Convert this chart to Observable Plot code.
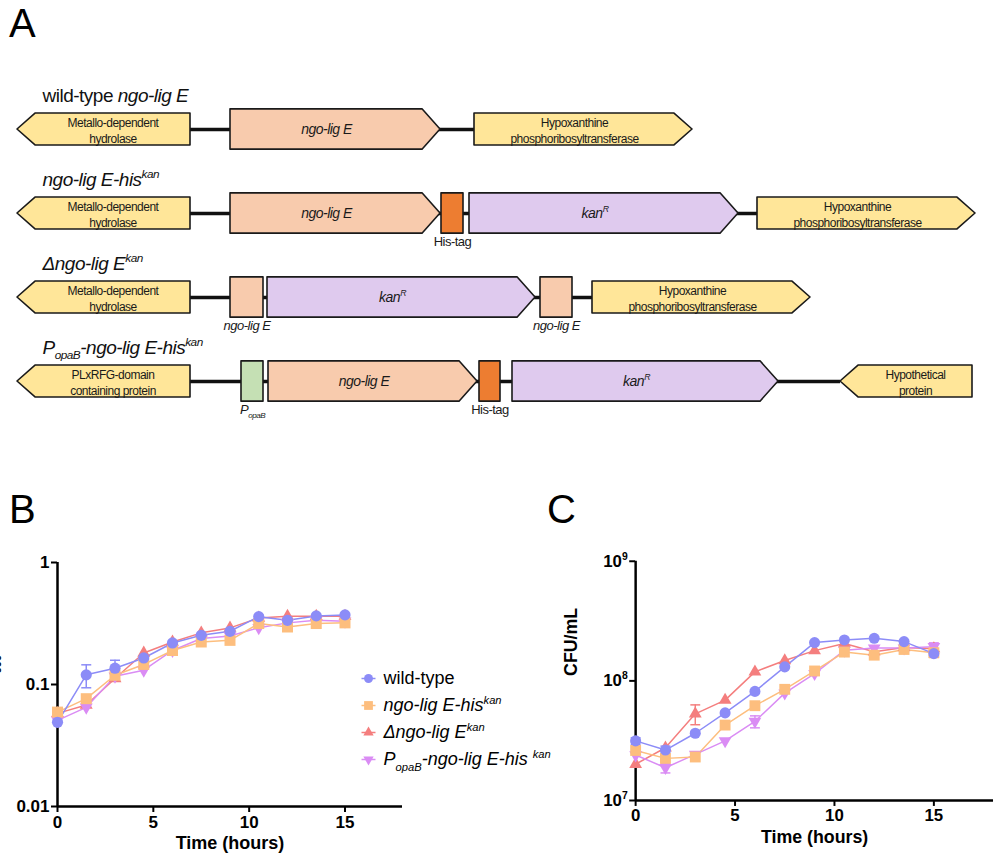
<!DOCTYPE html>
<html>
<head>
<meta charset="utf-8">
<script src="https://cdn.jsdelivr.net/npm/d3@7"></script>
<script src="https://cdn.jsdelivr.net/npm/@observablehq/plot@0.6"></script>
<style>
  html, body { margin:0; padding:0; background:#fff; }
  body { width:995px; height:861px; position:relative; overflow:hidden; font-family:'Liberation Sans', Arial, sans-serif; }
  .panel { position:absolute; }
  .letter { position:absolute; font-size:40px; line-height:40px; color:#000; }
</style>
</head>
<body>
<div class="letter" style="left:9px;top:3px">A</div>
<div class="letter" style="left:9px;top:489px">B</div>
<div class="letter" style="left:547px;top:489px">C</div>
<div id="A" class="panel" style="left:0;top:0"></div>
<div id="B" class="panel" style="left:0;top:540px"></div>
<div id="C" class="panel" style="left:560px;top:540px"></div>
<div id="L" class="panel" style="left:350px;top:660px"></div>
<script>
// ---------------- DATA ----------------
// Panel A: gene maps (map units along the locus; row = construct index)
const rowTitles = [
  "wild-type *ngo-lig E*",
  "*ngo-lig E-his*^{*kan*}",
  "*Δngo-lig E*^{*kan*}",
  "*P*_{*opaB*}*-ngo-lig E-his*^{*kan*}"
];
const genes = [
  {row:0, start:17,  end:190, dir:-1, kind:"flank", label:"Metallo-dependent\nhydrolase"},
  {row:0, start:230, end:440, dir:1,  kind:"lig",   label:"*ngo-lig E*"},
  {row:0, start:474, end:692, dir:1,  kind:"flank", label:"Hypoxanthine\nphosphoribosyltransferase"},

  {row:1, start:17,  end:190, dir:-1, kind:"flank", label:"Metallo-dependent\nhydrolase"},
  {row:1, start:230, end:440, dir:1,  kind:"lig",   label:"*ngo-lig E*"},
  {row:1, start:441, end:463, dir:0,  kind:"his",   caption:"His-tag"},
  {row:1, start:469, end:738, dir:1,  kind:"kan",   label:"*kan^{R}*"},
  {row:1, start:757, end:975, dir:1,  kind:"flank", label:"Hypoxanthine\nphosphoribosyltransferase"},

  {row:2, start:17,  end:190, dir:-1, kind:"flank", label:"Metallo-dependent\nhydrolase"},
  {row:2, start:230, end:263, dir:0,  kind:"lig",   caption:"*ngo-lig E*"},
  {row:2, start:267, end:535, dir:1,  kind:"kan",   label:"*kan^{R}*"},
  {row:2, start:540, end:572, dir:0,  kind:"lig",   caption:"*ngo-lig E*"},
  {row:2, start:592, end:810, dir:1,  kind:"flank", label:"Hypoxanthine\nphosphoribosyltransferase"},

  {row:3, start:17,  end:190, dir:-1, kind:"flank", label:"PLxRFG-domain\ncontaining protein"},
  {row:3, start:241, end:263, dir:0,  kind:"prom",  caption:"*P*_{*opaB*}"},
  {row:3, start:268, end:477, dir:1,  kind:"lig",   label:"*ngo-lig E*"},
  {row:3, start:479, end:500, dir:0,  kind:"his",   caption:"His-tag"},
  {row:3, start:512, end:778, dir:1,  kind:"kan",   label:"*kan^{R}*"},
  {row:3, start:840, end:972, dir:-1, kind:"flank", label:"Hypothetical\nprotein"}
];
const kindColors = {flank:"#ffe699", lig:"#f8cbad", kan:"#dfcaee", his:"#ed7d31", prom:"#c5e0b4"};

// Panels B and C: growth curves
const timeH = [0, 1.5, 3, 4.5, 6, 7.5, 9, 10.5, 12, 13.5, 15];
const strainKeys   = ["wt", "his", "del", "popa"];
const strainLabels = ["wild-type", "*ngo-lig E-his*^{*kan*}", "*Δngo-lig E*^{*kan*}", "*P*_{*opaB*}*-ngo-lig E-his *^{*kan*}"];
const strainColors = ["#8c8cf7", "#fdbe7e", "#f47e7e", "#da8cf4"];
const strainSymbols = ["circle", "square", "triangle", "triangle"];
const strainRotate  = [0, 0, 0, 180];

const odWT   = [0.049, 0.120, 0.136, 0.165, 0.219, 0.253, 0.273, 0.360, 0.336, 0.365, 0.372];
const odHis  = [0.0594, 0.0765, 0.119, 0.146, 0.190, 0.223, 0.230, 0.316, 0.296, 0.316, 0.320];
const odDel  = [0.058, 0.068, 0.112, 0.181, 0.223, 0.265, 0.291, 0.351, 0.363, 0.363, 0.363];
const odPopa = [0.0508, 0.065, 0.117, 0.131, 0.190, 0.238, 0.250, 0.292, 0.320, 0.336, 0.330];

const cfuWT   = [3.15e7, 2.64e7, 3.65e7, 5.4e7, 8.17e7, 1.31e8, 2.09e8, 2.20e8, 2.27e8, 2.13e8, 1.69e8];
const cfuHis  = [2.62e7, 2.25e7, 2.31e7, 4.27e7, 6.2e7, 8.5e7, 1.21e8, 1.74e8, 1.64e8, 1.83e8, 1.72e8];
const cfuDel  = [2.01e7, 2.76e7, 5.3e7, 6.9e7, 1.19e8, 1.48e8, 1.79e8, 2.05e8, 1.75e8, 1.90e8, 1.86e8];
const cfuPopa = [2.40e7, 1.88e7, 2.43e7, 3.15e7, 4.58e7, 7.9e7, 1.15e8, 1.80e8, 1.88e8, 1.88e8, 1.93e8];

// error bars [strain, time, low, high]
const errOD = [
  ["wt", 1.5, 0.094, 0.145],
  ["wt", 3, 0.114, 0.158]
];
const errCFU = [
  ["del", 3, 4.3e7, 6.3e7],
  ["popa", 1.5, 1.70e7, 2.05e7],
  ["popa", 6, 4.05e7, 5.1e7],
  ["wt", 0, 2.95e7, 3.35e7],
  ["wt", 1.5, 2.5e7, 2.85e7],
  ["his", 15, 1.57e8, 1.85e8],
  ["popa", 15, 1.78e8, 2.08e8]
];

const yTicksOD = [0.01, 0.1, 1];
const yTicksCFU = [1e7, 1e8, 1e9];
const xTicks = [0, 5, 10, 15];

// ---------------- HELPERS ----------------
function parseRich(s) {
  const segs = []; let italic = false; let buf = ""; let i = 0;
  const push = (text, shift) => { if (text) segs.push({text, italic, shift}); };
  while (i < s.length) {
    const c = s[i];
    if (c === "*") { push(buf, 0); buf = ""; italic = !italic; i++; }
    else if ((c === "^" || c === "_") && s[i + 1] === "{") {
      push(buf, 0); buf = "";
      const j = s.indexOf("}", i);
      const inner = s.slice(i + 2, j);
      const sh = c === "^" ? 1 : -1;
      let b2 = "";
      for (const ch of inner) {
        if (ch === "*") { push(b2, sh); b2 = ""; italic = !italic; } else b2 += ch;
      }
      push(b2, sh);
      i = j + 1;
    } else { buf += c; i++; }
  }
  push(buf, 0);
  return segs;
}
function richify(root) {
  root.querySelectorAll("text").forEach(el => {
    const lines = el.querySelectorAll("tspan");
    const targets = lines.length ? Array.from(lines) : [el];
    targets.forEach(t => {
      const s = t.textContent;
      if (!/[*^_]/.test(s)) return;
      const fs = parseFloat(getComputedStyle(t).fontSize) || 12;
      const segs = parseRich(s);
      t.textContent = "";
      let cur = 0;
      segs.forEach(seg => {
        const ts = document.createElementNS("http://www.w3.org/2000/svg", "tspan");
        ts.textContent = seg.text;
        if (seg.italic) ts.setAttribute("font-style", "italic");
        const off = seg.shift > 0 ? -0.42 * fs : seg.shift < 0 ? 0.3 * fs : 0;
        if (seg.shift) ts.setAttribute("font-size", (0.62 * fs).toFixed(1));
        if (off !== cur) { ts.setAttribute("dy", (off - cur).toFixed(2)); cur = off; }
        t.appendChild(ts);
      });
    });
  });
}
const capSymbol = {draw(ctx, size) { const r = Math.sqrt(size / Math.PI); ctx.moveTo(-r, 0); ctx.lineTo(r, 0); }};
const lineSymbol = capSymbol;

const strains = strainKeys.map((key, i) => ({
  key, label: strainLabels[i], color: strainColors[i], symbol: strainSymbols[i], rotate: strainRotate[i]
}));
const odSeries = {wt: odWT, his: odHis, del: odDel, popa: odPopa};
const cfuSeries = {wt: cfuWT, his: cfuHis, del: cfuDel, popa: cfuPopa};
const drawOrder = ["del", "popa", "his", "wt"];
const symR = {circle: 5.6, square: 6.2, triangle: 4.8};

// ---------------- PANEL A ----------------
const TIP = 18;
const HALF = {flank: 0.19, lig: 0.24, kan: 0.24, his: 0.24, prom: 0.24};
const shapePts = genes.flatMap((g, id) => {
  const h = HALF[g.kind], r = g.row, f = kindColors[g.kind];
  const P = (x, a, b) => ({id, x, y1: r + a, y2: r + b, fill: f});
  if (g.dir > 0) return [P(g.start, -h, h), P(g.end - TIP, -h, h), P(g.end, 0, 0)];
  if (g.dir < 0) return [P(g.start, 0, 0), P(g.start + TIP, -h, h), P(g.end, -h, h)];
  return [P(g.start, -h, h), P(g.end, -h, h)];
});
const rowLines = rowTitles.map((t, row) => {
  const gs = genes.filter(g => g.row === row).sort((a, b) => a.start - b.start);
  return {row, x1: gs[0].end, x2: gs[gs.length - 1].start};
});
const bodyCenter = g => g.dir > 0 ? (g.start + g.end - TIP) / 2 : g.dir < 0 ? (g.start + TIP + g.end) / 2 : (g.start + g.end) / 2;
const narrow = "'Liberation Sans Narrow', 'Liberation Sans', Arial, sans-serif";

const plotA = Plot.plot({
  width: 995, height: 440,
  marginTop: 0, marginRight: 0, marginBottom: 0, marginLeft: 0,
  x: {domain: [0, 995], range: [0, 995], axis: null},
  y: {type: "linear", domain: [-129 / 84, 311 / 84], range: [0, 440], axis: null},
  color: {type: "identity"},
  style: {fontFamily: narrow, background: "transparent", color: "#111", overflow: "visible", letterSpacing: "-0.5px"},
  marks: [
    Plot.ruleY(rowLines, {y: "row", x1: "x1", x2: "x2", stroke: "#111", strokeWidth: 3.5}),
    Plot.areaY(shapePts, {x: "x", y1: "y1", y2: "y2", z: "id", fill: "fill", stroke: "#1a1a1a", strokeWidth: 1.6, curve: "linear"}),
    Plot.text(genes.filter(g => g.label && g.kind === "flank"), {x: bodyCenter, y: "row", text: "label", fontSize: 12, lineHeight: 1.35, fill: "#1a1a1a"}),
    Plot.text(genes.filter(g => g.label && g.kind !== "flank"), {x: bodyCenter, y: "row", text: "label", fontSize: 14, fill: "#1a1a1a"}),
    Plot.text(genes.filter(g => g.caption), {x: bodyCenter, y: "row", dy: 28, text: "caption", fontSize: 13, fill: "#1a1a1a"}),
    Plot.text(rowTitles, {frameAnchor: "left", y: (d, i) => i, dx: 42, dy: -28, text: d => d, textAnchor: "start", lineAnchor: "bottom", fontSize: 19, fill: "#111"})
  ]
});
document.getElementById("A").appendChild(plotA);
richify(plotA);

// ---------------- PANELS B & C ----------------
function growthPlot(series, errs, opts) {
  const marks = [];
  marks.push(Plot.ruleX([0], {x: d => d, y1: () => opts.yDomain[0], y2: () => opts.yDomain[1], stroke: "#000", strokeWidth: 2.5}));
  marks.push(Plot.ruleY([opts.yDomain[0]], {y: d => d, x1: () => 0, x2: () => 18, stroke: "#000", strokeWidth: 2.5}));
  for (const key of drawOrder) {
    const s = strains.find(d => d.key === key);
    const data = timeH.map((t, i) => ({t, v: series[key][i]}));
    marks.push(Plot.line(data, {x: "t", y: "v", stroke: s.color, strokeWidth: 1.5}));
  }
  const errData = errs.map(([key, t, lo, hi]) => ({key, t, lo, hi, color: strains.find(d => d.key === key).color}));
  marks.push(Plot.ruleX(errData, {x: "t", y1: "lo", y2: "hi", stroke: "color", strokeWidth: 1.5}));
  marks.push(Plot.dot(errData, {x: "t", y: "lo", symbol: capSymbol, r: 5, stroke: "color", strokeWidth: 1.5, fill: "none"}));
  marks.push(Plot.dot(errData, {x: "t", y: "hi", symbol: capSymbol, r: 5, stroke: "color", strokeWidth: 1.5, fill: "none"}));
  for (const key of drawOrder) {
    const s = strains.find(d => d.key === key);
    const data = timeH.map((t, i) => ({t, v: series[key][i]}));
    marks.push(Plot.dot(data, {x: "t", y: "v", symbol: s.symbol, rotate: s.rotate, r: symR[s.symbol], fill: s.color, stroke: "none"}));
  }
  marks.push(Plot.axisX({ticks: xTicks, tickSize: 6, tickPadding: 3, strokeWidth: 2, label: null, tickFormat: d => String(d)}));
  marks.push(Plot.axisY({ticks: opts.yTicks, tickSize: 6, tickPadding: 2, strokeWidth: 2, label: null, tickFormat: opts.tickFormat}));
  marks.push(Plot.text(["Time (hours)"], {frameAnchor: "bottom", dy: opts.xLabelDy, text: d => d, fontSize: 18, fontWeight: "bold"}));
  marks.push(Plot.text([opts.yLabel], {frameAnchor: "left", dx: opts.yLabelDx, dy: opts.yLabelDy, rotate: -90, text: d => d, fontSize: 18, fontWeight: "bold", lineAnchor: opts.yLabelAnchor}));
  return Plot.plot({
    width: opts.width, height: opts.height,
    marginTop: opts.mt, marginBottom: opts.mb, marginLeft: opts.ml, marginRight: opts.mr,
    x: {domain: [0, 18]},
    y: {type: "log", domain: opts.yDomain},
    color: {type: "identity"},
    style: {fontFamily: "'Liberation Sans', Arial, sans-serif", fontSize: "17px", fontWeight: "bold", color: "#000", background: "transparent", overflow: "visible"},
    marks
  });
}

const plotB = growthPlot(odSeries, errOD, {
  width: 405, height: 321, mt: 22, mb: 55, ml: 57, mr: 3,
  yDomain: [0.01, 1], yTicks: yTicksOD, tickFormat: d => String(d),
  xLabelDy: 42, yLabel: "OD_{600}", yLabelDx: -62, yLabelDy: 16, yLabelAnchor: "bottom"
});
document.getElementById("B").appendChild(plotB);
richify(plotB);

const plotC = growthPlot(cfuSeries, errCFU, {
  width: 440, height: 320, mt: 21, mb: 57, ml: 76, mr: 2,
  yDomain: [1e7, 1e9], yTicks: yTicksCFU, tickFormat: d => "10^{" + Math.round(Math.log10(d)) + "}",
  xLabelDy: 43, yLabel: "CFU/mL", yLabelDx: -65, yLabelDy: -5, yLabelAnchor: "middle"
});
document.getElementById("C").appendChild(plotC);
richify(plotC);

// ---------------- LEGEND ----------------
const plotL = Plot.plot({
  width: 240, height: 118,
  marginTop: 0, marginRight: 0, marginBottom: 0, marginLeft: 0,
  x: {type: "point", domain: ["marker", "text"], range: [18, 33], padding: 0, axis: null},
  y: {type: "point", domain: strainKeys, range: [17, 99], padding: 0, axis: null},
  color: {type: "identity"},
  style: {fontFamily: "'Liberation Sans', Arial, sans-serif", background: "transparent", color: "#000", overflow: "visible"},
  marks: [
    Plot.dot(strains, {x: () => "marker", y: "key", symbol: lineSymbol, r: 7, stroke: "color", strokeWidth: 1.5, fill: "none"}),
    ...strains.map(s => Plot.dot([s], {x: () => "marker", y: "key", symbol: s.symbol, rotate: s.rotate, r: symR[s.symbol] * 0.8, fill: s.color, stroke: "none"})),
    Plot.text(strains, {x: () => "text", y: "key", text: "label", textAnchor: "start", fontSize: 18, fill: "#000"})
  ]
});
document.getElementById("L").appendChild(plotL);
richify(plotL);
</script>
</body>
</html>
